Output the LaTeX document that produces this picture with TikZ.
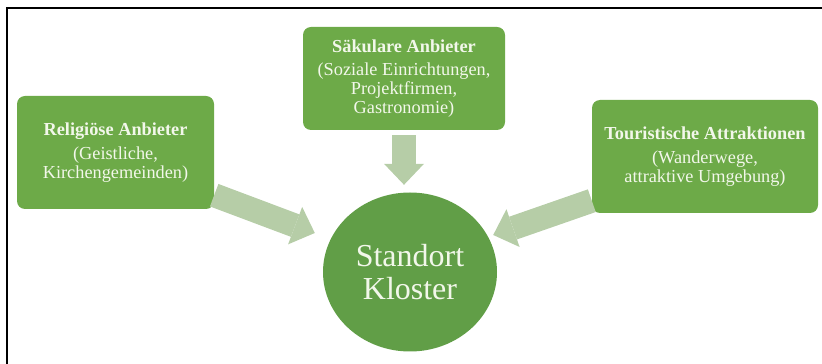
\documentclass[tikz,border=0pt]{standalone}
\usepackage{fontspec}
\setmainfont{Liberation Serif}
\usetikzlibrary{shapes.geometric,arrows.meta,calc}
\definecolor{boxgreen}{RGB}{109,170,72}
\definecolor{circgreen}{RGB}{97,158,71}
\definecolor{arrowgreen}{RGB}{182,205,167}
\definecolor{txtcol}{RGB}{242,247,234}
\begin{document}
\begin{tikzpicture}[x=1pt,y=1pt,
  box/.style={rectangle, rounded corners=8pt, fill=boxgreen, text=txtcol, align=center,
    inner sep=0pt, font=\fontsize{18.3}{18.8}\selectfont},
  hub/.style={ellipse, fill=circgreen, text=txtcol, align=center, inner sep=0pt,
    minimum width=174pt, minimum height=159pt, font=\fontsize{32}{33.5}\selectfont},
  fat/.style={draw=arrowgreen, line width=24pt,
    -{Triangle[width=40pt,length=21pt,line width=0pt]}},
  frameline/.style={line width=2pt, draw=black}]
\useasboundingbox (0,0) rectangle (822,364);
\draw[frameline] (7,0) -- (7,355.5) -- (822,355.5);

\node[box, minimum width=202pt, minimum height=103pt] (sec) at (404,285.5)
  {\textbf{Säkulare Anbieter}\\[5pt](Soziale Einrichtungen,\\Projektfirmen,\\Gastronomie)};
\node[box, minimum width=197pt, minimum height=113pt] (rel) at (115.5,211.5)
  {\textbf{Religiöse Anbieter}\\[5pt](Geistliche,\\Kirchengemeinden)};
\node[box, minimum width=226pt, minimum height=113pt] (tour) at (705,207.5)
  {\textbf{Touristische Attraktionen}\\[5pt](Wanderwege,\\attraktive Umgebung)};
\node[hub] (kl) at (410,92) {Standort\\Kloster};

\draw[fat] ([yshift=-5pt]sec.south) -- ([yshift=7.5pt]sec.south |- kl.north);
\draw[fat] ([yshift=14pt]rel.south east) -- ([shift={(-8pt,39pt)}]kl.west);
\draw[fat] ([yshift=12.5pt]tour.south west) -- ([shift={(-4pt,37pt)}]kl.east);
\end{tikzpicture}
\end{document}
